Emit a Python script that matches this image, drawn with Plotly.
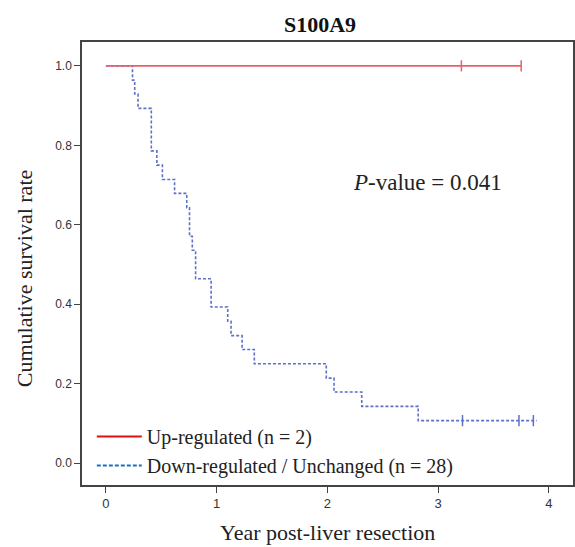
import plotly.graph_objects as go

title_text = "S100A9"
x_label = "Year post-liver resection"
y_label = "Cumulative survival rate"
legend_up = "Up-regulated (n = 2)"
legend_down = "Down-regulated / Unchanged (n = 28)"

up_times = [0.0, 3.21, 3.75]
up_surv = [1.0, 1.0, 1.0]
up_censor_times = [3.21, 3.75]
up_censor_surv = [1.0, 1.0]

down_times = [0.0, 0.24, 0.26, 0.29, 0.41, 0.46, 0.51, 0.62, 0.73, 0.755, 0.78,
              0.81, 0.95, 1.10, 1.13, 1.23, 1.34, 1.99, 2.06, 2.31, 2.82, 3.89]
down_surv = [1.0, 0.964, 0.929, 0.893, 0.786, 0.750, 0.714, 0.679, 0.643, 0.571, 0.536,
             0.464, 0.393, 0.357, 0.321, 0.286, 0.250, 0.214, 0.179, 0.143, 0.107, 0.107]
down_censor_times = [3.22, 3.73, 3.86]
down_censor_surv = [0.107, 0.107, 0.107]

x_ticks = [0, 1, 2, 3, 4]
y_ticks = [0.0, 0.2, 0.4, 0.6, 0.8, 1.0]
y_tick_labels = ["0.0", "0.2", "0.4", "0.6", "0.8", "1.0"]

curve_red = "#e8606a"
curve_blue = "#5e70c8"
leg_red = "#e01010"
leg_blue = "#1f6fbf"
serif = "Liberation Serif, Times New Roman, serif"
sans = "Liberation Sans, Arial, sans-serif"

fig = go.Figure()
fig.add_trace(go.Scatter(x=down_times, y=down_surv, mode="lines", line_shape="hv",
                         line=dict(color=curve_blue, width=1.6, dash="3px,2px"),
                         showlegend=False, hoverinfo="skip"))
fig.add_trace(go.Scatter(x=down_censor_times, y=down_censor_surv, mode="markers",
                         marker=dict(symbol="line-ns-open", size=8, color=curve_blue,
                                     line=dict(color=curve_blue, width=1.5)),
                         showlegend=False, hoverinfo="skip"))
fig.add_trace(go.Scatter(x=up_times, y=up_surv, mode="lines", line_shape="hv",
                         line=dict(color=curve_red, width=1.6),
                         showlegend=False, hoverinfo="skip"))
fig.add_trace(go.Scatter(x=up_censor_times, y=up_censor_surv, mode="markers",
                         marker=dict(symbol="line-ns-open", size=8, color=curve_red,
                                     line=dict(color=curve_red, width=1.5)),
                         showlegend=False, hoverinfo="skip"))
# legend entries
fig.add_trace(go.Scatter(x=[None], y=[None], mode="lines", name=legend_up,
                         line=dict(color=leg_red, width=2)))
fig.add_trace(go.Scatter(x=[None], y=[None], mode="lines", name=legend_down,
                         line=dict(color=leg_blue, width=2, dash="4px,2px")))

fig.update_layout(
    width=575, height=547,
    margin=dict(l=82, r=0, t=42, b=62),
    paper_bgcolor="white", plot_bgcolor="white",
    title=dict(text="<b>" + title_text + "</b>", x=320 / 575, xanchor="center",
               y=1 - 24 / 547, yanchor="middle",
               font=dict(family=serif, size=22, color="#111")),
    showlegend=True,
    legend=dict(x=0.02, y=0.0, xanchor="left", yanchor="bottom",
                bgcolor="rgba(0,0,0,0)", font=dict(family=serif, size=20, color="#222"),
                itemwidth=45, tracegroupgap=0),
    xaxis=dict(range=[-0.216, 4.218], tickvals=x_ticks, ticks="outside", ticklen=6,
               tickcolor="#444", showgrid=False, zeroline=False,
               showline=True, linecolor="#444", linewidth=1.5, mirror=True,
               tickfont=dict(family=sans, size=13, color="#333")),
    yaxis=dict(range=[-0.055, 1.060], tickvals=y_ticks, ticktext=y_tick_labels,
               ticks="outside", ticklen=6, tickcolor="#444", showgrid=False,
               zeroline=False, showline=True, linecolor="#444", linewidth=1.5, mirror=True,
               tickfont=dict(family=sans, size=12, color="#333")),
)

# x-axis title, positioned in pixels through paper coordinates
fig.add_annotation(x=(328 - 82) / 493, y=-(532 - 485) / 443, xref="paper", yref="paper",
                   showarrow=False, text=x_label, xanchor="center", yanchor="middle",
                   font=dict(family=serif, size=22, color="#222"))
fig.add_annotation(x=2.9, y=0.706, xref="x", yref="y", showarrow=False,
                   text="<i>P</i>-value = 0.041",
                   font=dict(family=serif, size=23, color="#222"))
fig.add_annotation(x=-(82 - 24) / 493, y=(485 - 278) / 443, xref="paper", yref="paper",
                   showarrow=False, textangle=-90, text=y_label,
                   xanchor="center", yanchor="middle",
                   font=dict(family=serif, size=22, color="#222"))

fig.write_html("out.html")
